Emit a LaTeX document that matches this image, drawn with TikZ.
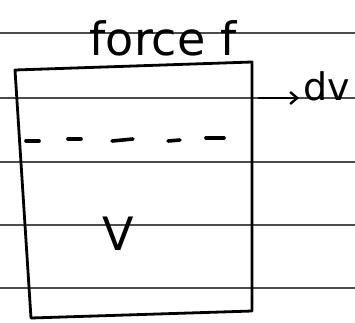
\documentclass[tikz,border=0pt]{standalone}
\usepackage{fontspec}
\setmainfont{DejaVu Sans}
\usetikzlibrary{arrows.meta}
\begin{document}
\begin{tikzpicture}[x=1pt,y=-1pt,
  ruled/.style={draw=black!70,line width=1.4pt},
  ink/.style={draw=black,line width=2.8pt,line cap=round,line join=round},
  dashseg/.style={draw=black,line width=3.6pt,line cap=round},
  hand/.style={inner sep=0pt}]
\useasboundingbox (0,0) rectangle (355,322);
\fill[white] (0,0) rectangle (355,322);
% ruled lines of the paper
\foreach \y in {33,98,162,225,288} \draw[ruled] (0,\y) -- (355,\y);
% box
\coordinate (tl) at (15,70);
\coordinate (tr) at (252,62);
\coordinate (br) at (252,311);
\coordinate (bl) at (31,318);
\draw[ink] (tl) -- (tr) -- (br) -- (bl) -- cycle;
% dashed line
\draw[dashseg] (26,141) -- (39,141);
\draw[dashseg] (68,139) -- (81,139);
\draw[dashseg] (112,141) -- (133,139);
\draw[dashseg] (168,141) -- (180,140);
\draw[dashseg] (206,138) -- (224,138);
% labels
\node[hand,font=\fontsize{46}{48}\selectfont] (force) at (163,38) {force f};
\node[hand,font=\fontsize{46}{48}\selectfont] (V) at (118,234) {V};
\node[hand,anchor=west,font=\fontsize{38}{40}\selectfont] (dv) at (303,86) {dv};
\coordinate (a0) at (259,98);
\draw[ink,line width=2.4pt,-{Straight Barb[length=7pt,width=12pt]}] (a0) -- ([xshift=-4pt]dv.west |- a0);
\end{tikzpicture}
\end{document}
